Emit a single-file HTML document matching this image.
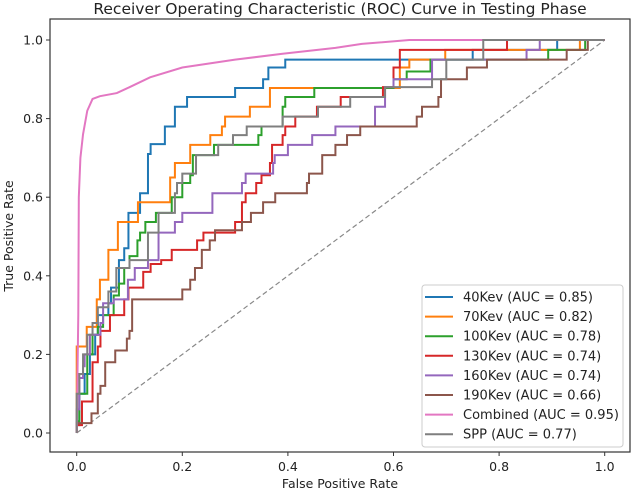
<!DOCTYPE html>
<html><head><meta charset="utf-8">
<style>
html,body{margin:0;padding:0;background:#fff;}
svg{display:block;font-family:"DejaVu Sans","Liberation Sans",sans-serif;}
</style></head>
<body>
<svg id="chart" width="633" height="492" viewBox="0 0 633 492">
<text x="340" y="14" text-anchor="middle" font-size="15.5" fill="#222">Receiver Operating Characteristic (ROC) Curve in Testing Phase</text>
<g id="axes"></g>
<g id="series"></g>
<g id="legend"></g>
</svg>
<script>
const seriesNames = ["40Kev","70Kev","100Kev","130Kev","160Kev","190Kev","Combined","SPP"];
const aucValues = [0.85,0.82,0.78,0.74,0.74,0.66,0.95,0.77];
const seriesColors = ["#1f77b4","#ff7f0e","#2ca02c","#d62728","#9467bd","#8c564b","#e377c2","#7f7f7f"];
const xTicks = [0.0,0.2,0.4,0.6,0.8,1.0];
const yTicks = [0.0,0.2,0.4,0.6,0.8,1.0];
const fpr40 = [0,0.005,0.015,0.025,0.035,0.04,0.06,0.065,0.08,0.09,0.098,0.12,0.135,0.14,0.167,0.186,0.209,0.30,0.353,0.363,0.395,0.75,0.91,1];
const tpr40 = [0.02,0.1,0.15,0.2,0.25,0.3,0.33,0.37,0.44,0.47,0.56,0.61,0.71,0.735,0.78,0.83,0.855,0.878,0.9,0.93,0.95,0.975,1,1];
const fpr70 = [0,0.019,0.038,0.044,0.06,0.078,0.116,0.177,0.186,0.215,0.253,0.275,0.281,0.328,0.366,0.612,0.63,0.698,0.953,1];
const tpr70 = [0.22,0.27,0.34,0.39,0.466,0.537,0.587,0.65,0.687,0.733,0.758,0.78,0.805,0.83,0.878,0.93,0.95,0.975,1,1];
const fpr100 = [0,0.005,0.02,0.03,0.04,0.05,0.07,0.08,0.09,0.1,0.115,0.12,0.13,0.15,0.18,0.2,0.215,0.22,0.26,0.344,0.35,0.39,0.395,0.45,0.6,0.625,0.67,0.893,0.963,1];
const tpr100 = [0.03,0.1,0.2,0.25,0.27,0.3,0.35,0.38,0.42,0.45,0.49,0.51,0.537,0.56,0.6,0.636,0.656,0.707,0.733,0.758,0.78,0.83,0.855,0.878,0.9,0.92,0.95,0.975,1,1];
const fpr130 = [0,0.01,0.03,0.04,0.045,0.063,0.09,0.098,0.126,0.14,0.16,0.18,0.228,0.24,0.30,0.313,0.32,0.34,0.35,0.366,0.37,0.39,0.395,0.414,0.455,0.5,0.58,0.6,0.612,0.815,1];
const tpr130 = [0.02,0.08,0.18,0.22,0.26,0.3,0.34,0.37,0.41,0.43,0.44,0.466,0.49,0.51,0.537,0.587,0.61,0.636,0.656,0.687,0.733,0.758,0.78,0.805,0.83,0.855,0.88,0.93,0.975,1,1];
const fpr160 = [0,0.005,0.012,0.015,0.025,0.045,0.05,0.07,0.097,0.11,0.135,0.155,0.186,0.2,0.257,0.313,0.32,0.372,0.375,0.40,0.446,0.49,0.565,0.584,0.6,0.673,0.852,0.877,1];
const tpr160 = [0.06,0.14,0.17,0.2,0.25,0.28,0.33,0.34,0.39,0.42,0.44,0.51,0.537,0.56,0.61,0.636,0.66,0.687,0.707,0.733,0.758,0.78,0.83,0.88,0.9,0.95,0.975,1,1];
const fpr190 = [0,0.028,0.04,0.045,0.054,0.073,0.095,0.1,0.105,0.2,0.215,0.224,0.237,0.252,0.262,0.313,0.33,0.353,0.376,0.436,0.44,0.465,0.49,0.512,0.537,0.644,0.654,0.685,0.69,0.739,0.777,0.928,0.968,1];
const tpr190 = [0.025,0.05,0.1,0.12,0.18,0.21,0.24,0.26,0.34,0.365,0.39,0.42,0.466,0.49,0.516,0.537,0.56,0.587,0.61,0.636,0.66,0.707,0.733,0.758,0.78,0.805,0.83,0.855,0.9,0.93,0.95,0.975,1,1];
const fprComb = [0,0.003,0.004,0.007,0.012,0.02,0.03,0.044,0.076,0.1,0.139,0.2,0.3,0.39,0.49,0.54,0.63,1];
const tprComb = [0,0.3,0.6,0.7,0.76,0.82,0.85,0.857,0.865,0.88,0.905,0.93,0.95,0.965,0.98,0.99,1,1];
const fprSpp = [0,0.005,0.012,0.02,0.03,0.04,0.06,0.075,0.1,0.135,0.155,0.186,0.19,0.2,0.226,0.268,0.296,0.322,0.39,0.457,0.518,0.584,0.673,0.7,0.77,1];
const tprSpp = [0.1,0.15,0.2,0.25,0.28,0.32,0.36,0.42,0.44,0.51,0.56,0.61,0.636,0.66,0.707,0.733,0.758,0.78,0.805,0.83,0.855,0.88,0.9,0.95,1,1];
const fprList = [fpr40,fpr70,fpr100,fpr130,fpr160,fpr190,fprComb,fprSpp];
const tprList = [tpr40,tpr70,tpr100,tpr130,tpr160,tpr190,tprComb,tprSpp];

const NS = "http://www.w3.org/2000/svg";
const L=50,R=630,T=19,B=452;
function xs(v){return 76.7+v*528;}
function ys(v){return 433-v*393;}
function mk(tag,attrs,parent){const e=document.createElementNS(NS,tag);for(const k in attrs)e.setAttribute(k,attrs[k]);parent.appendChild(e);return e;}
const axes=document.getElementById('axes');
const frame=mk('rect',{x:L,y:T,width:R-L,height:B-T,fill:'none',stroke:'#333','stroke-width':1.2},axes);


xTicks.forEach(t=>{
  const g=mk('g',{},axes);
  
  
  mk('line',{x1:xs(t),x2:xs(t),y1:B,y2:B+4,stroke:'#333'},g);
  const tx=mk('text',{x:xs(t),y:B+19,'text-anchor':'middle','font-size':12.5,fill:'#222'},g);
  tx.textContent=t.toFixed(1);
});
yTicks.forEach(t=>{
  const g=mk('g',{},axes);
  
  
  mk('line',{x1:L-4,x2:L,y1:ys(t),y2:ys(t),stroke:'#333'},g);
  const tx=mk('text',{x:L-7,y:ys(t)+4.5,'text-anchor':'end','font-size':12.5,fill:'#222'},g);
  tx.textContent=t.toFixed(1);
});
const xl=mk('text',{x:340,y:488,'text-anchor':'middle','font-size':12.5,fill:'#222'},axes);
xl.textContent='False Positive Rate';


const yl=mk('text',{x:0,y:0,transform:'translate(13,236) rotate(-90)','text-anchor':'middle','font-size':12.5,fill:'#222'},axes);
yl.textContent='True Positive Rate';



const ser=document.getElementById('series');
const diag=mk('line',{x1:xs(0),y1:ys(0),x2:xs(1),y2:ys(1),stroke:'#888','stroke-width':1.2,'stroke-dasharray':'5,3'},ser);


fprList.forEach((fx,i)=>{
  const ty=tprList[i];
  let d='M'+xs(0)+' '+ys(0);
  let py=0;
  const smooth = seriesNames[i]==='Combined';
  for(let k=0;k<fx.length;k++){
    if(smooth){d+=' L'+xs(fx[k])+' '+ys(ty[k]);}
    else{d+=' L'+xs(fx[k])+' '+ys(py)+' L'+xs(fx[k])+' '+ys(ty[k]);}
    py=ty[k];
  }
  const p=mk('path',{d:d,fill:'none',stroke:seriesColors[i],'stroke-width':2},ser);
  
  
});

const leg=document.getElementById('legend');


mk('rect',{x:422,y:285,width:201,height:162,rx:3,fill:'#fff','fill-opacity':0.85,stroke:'#ccc'},leg);
seriesNames.forEach((n,i)=>{
  const y=297+i*19.6;
  const g=mk('g',{},leg);
  
  
  mk('line',{x1:425,x2:453,y1:y,y2:y,stroke:seriesColors[i],'stroke-width':2},g);
  const t=mk('text',{x:463,y:y+4.5,'font-size':13,fill:'#222'},g);
  t.textContent=n+' (AUC = '+aucValues[i].toFixed(2)+')';
});
</script>
</body></html>
